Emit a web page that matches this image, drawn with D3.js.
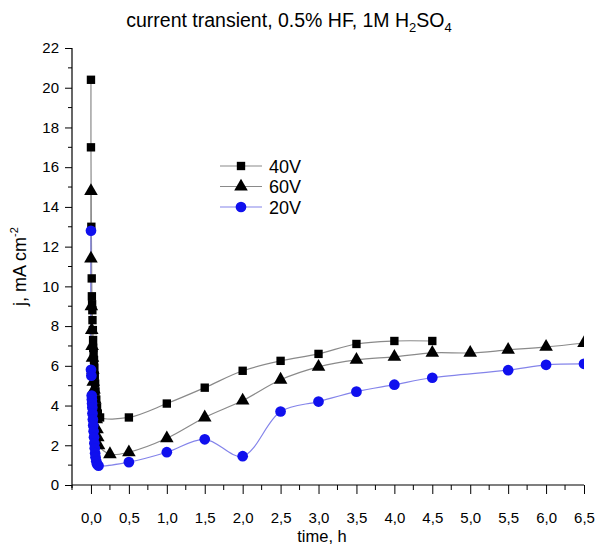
<!DOCTYPE html>
<html><head><meta charset="utf-8">
<script src="https://cdn.jsdelivr.net/npm/d3@7"></script>
<style>body{margin:0;background:#fff}svg{font-family:"Liberation Sans",Arial,sans-serif}</style>
</head><body><svg id="c" width="597" height="548"></svg>
<script>
const seriesNames = ["40V", "60V", "20V"];
const xTicks = [0,0.5,1,1.5,2,2.5,3,3.5,4,4.5,5,5.5,6,6.5];
const yTicks = [0,2,4,6,8,10,12,14,16,18,20,22];
const data40 = [[0.0,20.4],[0.0,17.0],[0.005,13.0],[0.01,10.4],[0.012,9.5],[0.015,9.1],[0.018,8.8],[0.02,8.3],[0.025,7.8],[0.028,7.3],[0.03,6.9],[0.035,6.6],[0.04,6.3],[0.045,5.9],[0.05,5.5],[0.055,5.1],[0.06,4.7],[0.07,4.3],[0.08,3.9],[0.09,3.6],[0.12,3.4],[0.5,3.4],[1.0,4.1],[1.5,4.9],[2.0,5.75],[2.5,6.25],[3.0,6.6],[3.5,7.1],[4.0,7.25],[4.5,7.25]];
const data60 = [[0.0,14.8],[0.0,11.4],[0.005,9.0],[0.01,7.8],[0.015,7.0],[0.02,6.4],[0.025,5.8],[0.03,5.2],[0.04,4.8],[0.05,4.3],[0.06,3.8],[0.07,3.3],[0.08,2.8],[0.09,2.4],[0.1,2.0],[0.25,1.55],[0.5,1.65],[1.0,2.35],[1.5,3.4],[2.0,4.25],[2.5,5.3],[3.0,5.95],[3.5,6.3],[4.0,6.45],[4.5,6.65],[5.0,6.65],[5.5,6.8],[6.0,6.95],[6.5,7.15]];
const data20 = [[0.0,12.8],[0.0,5.8],[0.005,5.5],[0.01,4.5],[0.012,4.3],[0.015,4.1],[0.018,3.9],[0.02,3.6],[0.025,3.3],[0.03,3.0],[0.035,2.7],[0.04,2.4],[0.045,2.1],[0.05,1.85],[0.055,1.6],[0.06,1.4],[0.07,1.2],[0.08,1.05],[0.1,0.97],[0.5,1.15],[1.0,1.65],[1.5,2.3],[2.0,1.45],[2.5,3.7],[3.0,4.2],[3.5,4.7],[4.0,5.05],[4.5,5.4],[5.5,5.78],[6.0,6.05],[6.5,6.1]];

const svg = d3.select("#c");
const L = 72, R = 584, T = 48, B = 485;
const x = d3.scaleLinear().domain([-0.25, 6.5]).range([L, R]);
const y = d3.scaleLinear().domain([0, 22]).range([B, T]);

svg.append("defs").append("clipPath").attr("id","clip")
  .append("rect").attr("x", L).attr("y", 0).attr("width", R - L).attr("height", B + 5);

// axes
const xAxis = d3.axisBottom(x).tickValues(xTicks).tickSize(9).tickFormat(d => d3.format(".1f")(d).replace(".", ","));
const gx = svg.append("g").attr("transform", `translate(0,${B})`).call(xAxis);
gx.selectAll(".tick text").attr("font-size", 15).attr("dy", "1.75em");
gx.append("g").selectAll("line").data(d3.range(-0.25, 6.5, 0.5)).join("line")
  .attr("x1", d => x(d)).attr("x2", d => x(d)).attr("y1", 0).attr("y2", 5).attr("stroke", "#000");
gx.select(".domain").attr("d", `M${L},0H${R}`);

const yAxis = d3.axisLeft(y).tickValues(yTicks).tickSize(7).tickFormat(d3.format("d"));
const gy = svg.append("g").attr("transform", `translate(${L},0)`).call(yAxis);
gy.selectAll(".tick text").attr("font-size", 15).attr("dx", "-0.2em");
gy.append("g").selectAll("line").data(d3.range(1, 22, 2)).join("line")
  .attr("x1", 0).attr("x2", -4).attr("y1", d => y(d)).attr("y2", d => y(d)).attr("stroke", "#000");
gy.select(".domain").attr("d", `M0,${T}V${B + 3}`);
svg.selectAll(".domain").attr("stroke", "#000").attr("stroke-width", 1.2);

// titles
const title = svg.append("text").attr("x", 289).attr("y", 27).attr("text-anchor", "middle").attr("font-size", 19.5);
title.append("tspan").text("current transient, 0.5% HF, 1M H");
title.append("tspan").text("2").attr("font-size", 13).attr("dy", 5);
title.append("tspan").text("SO").attr("dy", -5);
title.append("tspan").text("4").attr("font-size", 13).attr("dy", 5);

svg.append("text").attr("x", (L + R) / 2 - 6).attr("y", 542).attr("text-anchor", "middle").attr("font-size", 16.5).text("time, h");
const yl = svg.append("text").attr("transform", `translate(26,${(T + B) / 2}) rotate(-90)`).attr("text-anchor", "middle").attr("font-size", 18);
yl.append("tspan").text("j, mA cm");
yl.append("tspan").text("-2").attr("font-size", 11).attr("dy", -8);

// series
const series = [
  {name: seriesNames[0], data: data40, line: "#8a8a8a", fill: "#000", sym: d3.symbolSquare, size: 70},
  {name: seriesNames[1], data: data60, line: "#8a8a8a", fill: "#000", sym: d3.symbolTriangle, size: 80},
  {name: seriesNames[2], data: data20, line: "#8484ea", fill: "#1010ee", sym: d3.symbolCircle, size: 90}
];
const line = d3.line().x(d => x(d[0])).y(d => y(d[1])).curve(d3.curveCatmullRom.alpha(0.5));
const plot = svg.append("g").attr("clip-path", "url(#clip)");
series.forEach(s => {
  plot.append("path").datum(s.data).attr("d", line).attr("fill", "none").attr("stroke", s.line).attr("stroke-width", 1.2);
});
series.forEach(s => {
  plot.append("g").selectAll("path").data(s.data).join("path")
    .attr("transform", d => `translate(${x(d[0])},${y(d[1])})`)
    .attr("d", d3.symbol().type(s.sym).size(s.size)).attr("fill", s.fill);
});

// legend
const lg = svg.append("g");
series.forEach((s, i) => {
  const yy = 166 + i * 20.5;
  lg.append("line").attr("x1", 220).attr("x2", 262).attr("y1", yy).attr("y2", yy).attr("stroke", s.line).attr("stroke-width", 1.2);
  lg.append("path").attr("transform", `translate(241,${yy})`).attr("d", d3.symbol().type(s.sym).size(s.size)).attr("fill", s.fill);
  lg.append("text").attr("x", 269).attr("y", yy + 6.5).attr("font-size", 18).text(s.name);
});
</script></body></html>
